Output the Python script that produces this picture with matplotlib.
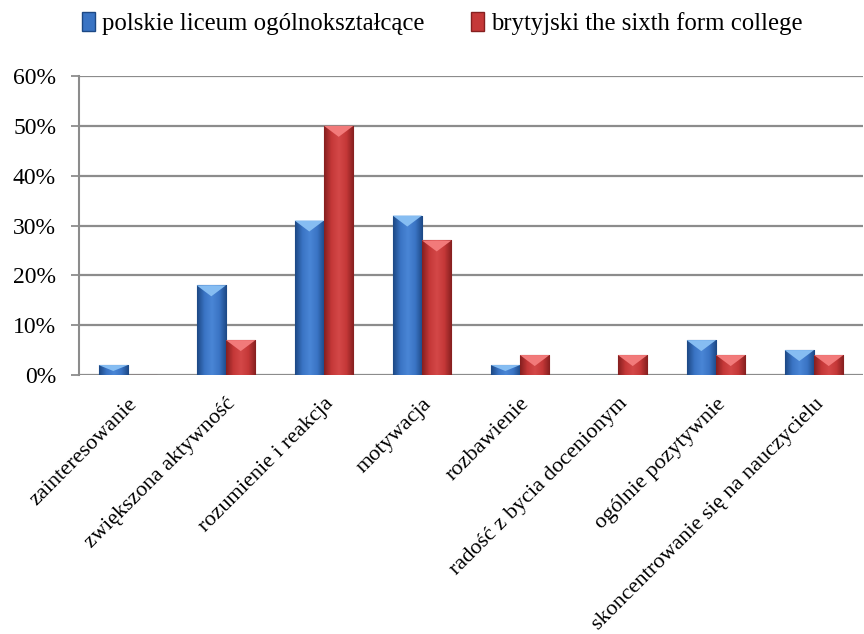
import matplotlib
matplotlib.use("Agg")
import matplotlib.pyplot as plt
import numpy as np
from matplotlib.colors import LinearSegmentedColormap
from matplotlib.patches import Polygon, Patch

# data (percent)
categories = ["zainteresowanie", "zwiększona aktywność", "rozumienie i reakcja",
              "motywacja", "rozbawienie", "radość z bycia docenionym",
              "ogólnie pozytywnie", "skoncentrowanie się na nauczycielu"]
polskie = [2, 18, 31, 32, 2, 0, 7, 5]
brytyjskie = [0, 7, 50, 27, 4, 4, 4, 4]
series_names = ["polskie liceum ogólnokształcące", "brytyjski the sixth form college"]
yticks = [0, 10, 20, 30, 40, 50, 60]

plt.rcParams['font.family'] = ['Liberation Serif', 'DejaVu Serif']

fig = plt.figure(figsize=(8.64, 6.34), dpi=100)
ax = fig.add_axes([79/864, 1-375/634, (863-79)/864, (375-76)/634])

x = np.arange(len(categories))
w = 0.3
looks = [("#1c4885", "#3a74c4", "#4a86d6", "#86bdf2"),
         ("#861f1f", "#c53838", "#d44848", "#f27a7a")]

# px -> data for the bevel depth
ypp = 60 / 299.0

for vals, off, (dark, mid, hi, light) in zip([polskie, brytyjskie], [-w/2, w/2], looks):
    bars = ax.bar(x + off, vals, w, color=mid, edgecolor=dark, linewidth=0.8, zorder=3)
    cmap = LinearSegmentedColormap.from_list("g", [dark, mid, hi, mid, dark])
    grad = np.linspace(0, 1, 80).reshape(1, -1)
    for b in bars:
        h = b.get_height()
        if h <= 0:
            continue
        x0, x1 = b.get_x(), b.get_x() + b.get_width()
        im = ax.imshow(grad, cmap=cmap, extent=(x0, x1, 0, h), aspect='auto',
                       zorder=3.5, interpolation='bilinear')
        im.set_clip_path(b)
        d = min(11 * ypp, h * 0.6)
        ax.add_patch(Polygon([(x0, h), (x1, h), ((x0 + x1) / 2, h - d)],
                             closed=True, facecolor=light, edgecolor='none', zorder=4))

ax.set_xlim(-0.5, len(categories) - 0.5)
ax.set_ylim(0, 60)

ax.set_yticks(yticks)
ax.set_yticklabels([f"{v}%" for v in yticks])
ax.set_xticks(x)
ax.set_xticklabels(categories, rotation=45, ha='right', rotation_mode='anchor')
ax.tick_params(axis='x', length=0, pad=14, labelsize=16)
ax.tick_params(axis='y', length=5.5, width=1.3, color='#8c8c8c', pad=11, labelsize=17)

ax.grid(axis='y', color='#8c8c8c', linewidth=1.6, zorder=0)
ax.set_axisbelow(True)
for s in ['top', 'right', 'bottom']:
    ax.spines[s].set_visible(False)
ax.spines['left'].set_color('#8c8c8c')
ax.spines['left'].set_linewidth(1.5)

handles = [Patch(facecolor=looks[0][1], edgecolor=looks[0][0]),
           Patch(facecolor=looks[1][1], edgecolor=looks[1][0])]
fig.legend(handles, series_names, loc='center', bbox_to_anchor=(0.512, 0.963), ncol=2,
           frameon=False, fontsize=17.8, handlelength=0.5, handleheight=0.8,
           handletextpad=0.3, columnspacing=1.9)

fig.savefig("out.png", dpi=100)
